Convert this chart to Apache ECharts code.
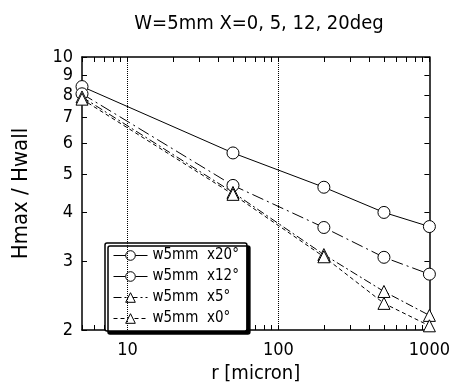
<!DOCTYPE html>
<html>
<head>
<meta charset="utf-8">
<script src="https://cdn.jsdelivr.net/npm/echarts@6/dist/echarts.min.js"></script>
<style>
  html, body { margin: 0; padding: 0; background: #fff; }
  #main { width: 453px; height: 389px; }
</style>
</head>
<body>
<div id="main"></div>
<script>
const FONT = "'Liberation Sans Narrow', 'DejaVu Sans Condensed', sans-serif";

// r [micron]
const radius = [5, 50, 200, 500, 1000];
// Hmax / Hwall
const x20 = [8.4, 5.68, 4.64, 4.0, 3.68];
const x12 = [8.05, 4.69, 3.66, 3.07, 2.78];
const x5 = [7.9, 4.5, 3.12, 2.51, 2.18];
const x0 = [7.8, 4.45, 3.08, 2.34, 2.05];

const xTicks = [5, 6, 7, 8, 9, 10, 20, 30, 40, 50, 60, 70, 80, 90, 100,
  200, 300, 400, 500, 600, 700, 800, 900, 1000];
const xLabels = [10, 100, 1000];
const yTicks = [2, 3, 4, 5, 6, 7, 8, 9, 10];
const gridLines = [10, 100];

function pairs(ys) {
  return radius.map((r, i) => [r, ys[i]]);
}

function mkSeries(name, ys, symbol, dash) {
  return {
    name: name,
    type: 'line',
    data: pairs(ys),
    symbol: symbol,
    symbolSize: 12,
    showSymbol: true,
    itemStyle: { color: '#fff', borderColor: '#000', borderWidth: 1 },
    lineStyle: { color: '#000', width: 1, type: dash },
    z: 3
  };
}

const axisCommon = {
  axisLine: { show: true, lineStyle: { color: '#000', width: 1.5 } },
  axisTick: { show: true, inside: true, length: 5, lineStyle: { color: '#000', width: 1 } },
  splitLine: { show: false }
};

const chart = echarts.init(document.getElementById('main'), null, { renderer: 'canvas' });

const series = [
  mkSeries('w5mm  x20°', x20, 'circle', 'solid'),
  mkSeries('w5mm  x12°', x12, 'circle', [12, 4, 2, 4]),
  mkSeries('w5mm  x5°', x5, 'triangle', [8, 3, 2, 3]),
  mkSeries('w5mm  x0°', x0, 'triangle', [4, 3])
];
series[0].markLine = {
  silent: true,
  symbol: 'none',
  label: { show: false },
  lineStyle: { color: '#000', type: 'dotted', width: 1 },
  data: gridLines.map(v => ({ xAxis: v }))
};

chart.setOption({
  animation: false,
  backgroundColor: '#fff',
  textStyle: { fontFamily: FONT, color: '#000' },
  title: {
    text: 'W=5mm X=0, 5, 12, 20deg',
    left: 254,
    textAlign: 'center',
    top: 9,
    textStyle: { fontFamily: FONT, fontSize: 20, fontWeight: 'normal', color: '#000' }
  },
  grid: { left: 82, right: 17, top: 57, bottom: 47 },
  legend: {
    orient: 'vertical',
    left: 105,
    top: 243,
    itemWidth: 34,
    itemHeight: 12,
    itemGap: 6,
    padding: [5, 8, 5, 8],
    backgroundColor: '#fff',
    borderColor: '#000',
    borderWidth: 1.5,
    borderRadius: 2,
    shadowColor: '#000',
    shadowBlur: 0,
    shadowOffsetX: 3,
    shadowOffsetY: 3,
    itemStyle: { color: '#fff', borderColor: '#000', borderWidth: 1 },
    lineStyle: { color: '#000', width: 1 },
    textStyle: { fontFamily: FONT, fontSize: 15, lineHeight: 15, color: '#000' },
    data: series.map(s => s.name)
  },
  xAxis: [
    Object.assign({}, axisCommon, {
      type: 'log', logBase: 10, min: 5, max: 1000,
      position: 'bottom',
      name: 'r [micron]',
      nameLocation: 'middle',
      nameGap: 34,
      nameTextStyle: { fontFamily: FONT, fontSize: 20, color: '#000' },
      axisTick: Object.assign({}, axisCommon.axisTick, { customValues: xTicks }),
      axisLabel: {
        customValues: xLabels, fontFamily: FONT, fontSize: 18, color: '#000', margin: 11,
        formatter: v => String(v)
      }
    }),
    Object.assign({}, axisCommon, {
      type: 'log', logBase: 10, min: 5, max: 1000,
      position: 'top',
      axisTick: Object.assign({}, axisCommon.axisTick, { customValues: xTicks }),
      axisLabel: { show: false }
    })
  ],
  yAxis: [
    Object.assign({}, axisCommon, {
      type: 'log', logBase: 10, min: 2, max: 10,
      position: 'left',
      name: 'Hmax / Hwall',
      nameLocation: 'middle',
      nameGap: 50,
      nameTextStyle: { fontFamily: FONT, fontSize: 22, color: '#000' },
      axisTick: Object.assign({}, axisCommon.axisTick, { customValues: yTicks }),
      axisLabel: {
        customValues: yTicks, fontFamily: FONT, fontSize: 18, color: '#000', margin: 9,
        formatter: v => String(v)
      }
    }),
    Object.assign({}, axisCommon, {
      type: 'log', logBase: 10, min: 2, max: 10,
      position: 'right',
      axisTick: Object.assign({}, axisCommon.axisTick, { customValues: yTicks }),
      axisLabel: { show: false }
    })
  ],
  series: series
});
</script>
</body>
</html>
